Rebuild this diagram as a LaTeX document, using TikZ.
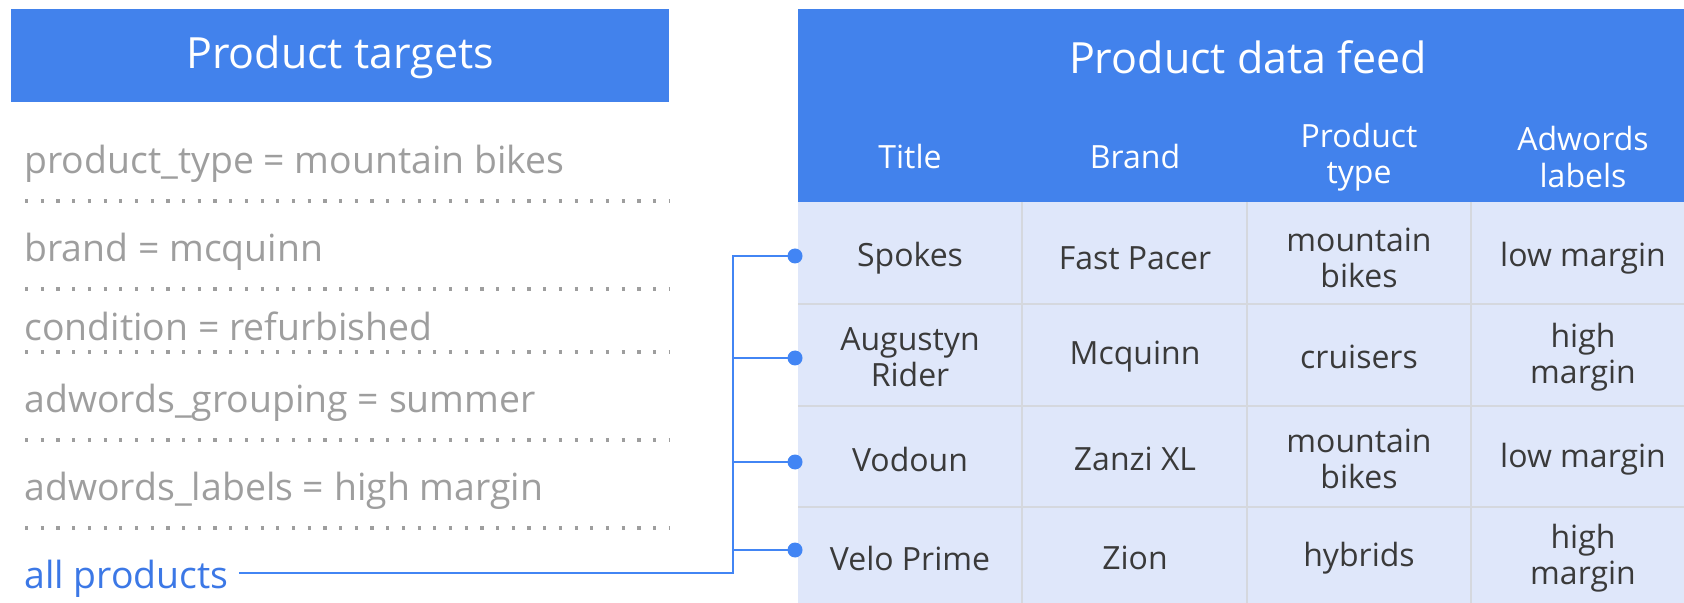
\documentclass[tikz,border=0pt]{standalone}
\usepackage{fontspec}
\setmainfont{Open Sans}
\definecolor{hdr}{HTML}{4282EC}
\definecolor{cellbg}{HTML}{DFE7FA}
\definecolor{grid}{HTML}{D5D8DE}
\definecolor{itemgray}{HTML}{9E9E9E}
\definecolor{dotgray}{HTML}{9E9E9E}
\definecolor{linkblue}{HTML}{4285F4}
\definecolor{allblue}{HTML}{3C78E6}
\definecolor{celltext}{HTML}{3A3A3A}
\tikzset{
  titletext/.style={font=\fontsize{21.5}{25}\selectfont, text=white, inner sep=0pt},
  colhead/.style={font=\fontsize{16}{18.2}\selectfont, text=white, align=center, inner sep=0pt},
  itemtext/.style={font=\fontsize{18.7}{22}\selectfont, text=itemgray, anchor=west, inner sep=0pt},
  celltxt/.style={font=\fontsize{16}{18.2}\selectfont, text=celltext, align=center, inner sep=0pt},
  dotline/.style={draw=dotgray, line width=1.6pt, dash pattern=on 1.6pt off 6.25pt},
  gridline/.style={draw=grid, line width=1.3pt},
  conn/.style={draw=linkblue, line width=1.3pt},
  dotnode/.style={circle, fill=linkblue, inner sep=0pt, minimum size=7.5pt},
}
\begin{document}
\begin{tikzpicture}[x=0.5pt,y=-0.5pt]
\useasboundingbox (0,0) rectangle (1684,603);
% left header
\fill[hdr] (11,9) rectangle (669,102);
\node[titletext] (lt) at (340,57) {Product targets};
% items
\node[itemtext] (i1) at (24,164) {product\_type = mountain bikes};
\node[itemtext] (i2) at (24,252) {brand = mcquinn};
\node[itemtext] (i3) at (24,326) {condition = refurbished};
\node[itemtext] (i4) at (24,403) {adwords\_grouping = summer};
\node[itemtext] (i5) at (24,491) {adwords\_labels = high margin};
\draw[dotline] (25,201) -- (669,201);
\draw[dotline] (25,289) -- (669,289);
\draw[dotline] (25,352) -- (669,352);
\draw[dotline] (25,440) -- (669,440);
\draw[dotline] (25,528) -- (669,528);
\node[itemtext, text=allblue] (allp) at (24,579) {all products};
% right table
\fill[hdr] (798,9) rectangle (1684,202);
\node[titletext] (rt) at (1248,57) {Product data feed};
\node[colhead] (h1) at (910,157) {Title};
\node[colhead] (h2) at (1135,157) {Brand};
\node[colhead] (h3) at (1359,157) {Product\\type};
\node[colhead] (h4) at (1583,157) {Adwords\\labels};
\fill[cellbg] (798,202) rectangle (1684,603);
\foreach \y in {304,406,507} \draw[gridline] (798,\y) -- (1684,\y);
\foreach \x in {1022,1247,1471} \draw[gridline] (\x,202) -- (\x,603);
% row 1
\node[celltxt] (c11) at (910,258) {Spokes};
\node[celltxt] (c12) at (1135,258) {Fast Pacer};
\node[celltxt] (c13) at (1359,258) {mountain\\bikes};
\node[celltxt] (c14) at (1583,258) {low margin};
% row 2
\node[celltxt] (c21) at (910,357) {Augustyn\\Rider};
\node[celltxt] (c22) at (1135,357) {Mcquinn};
\node[celltxt] (c23) at (1359,357) {cruisers};
\node[celltxt] (c24) at (1583,357) {high\\margin};
% row 3
\node[celltxt] (c31) at (910,459) {Vodoun};
\node[celltxt] (c32) at (1135,459) {Zanzi XL};
\node[celltxt] (c33) at (1359,459) {mountain\\bikes};
\node[celltxt] (c34) at (1583,459) {low margin};
% row 4
\node[celltxt] (c41) at (910,558) {Velo Prime};
\node[celltxt] (c42) at (1135,558) {Zion};
\node[celltxt] (c43) at (1359,558) {hybrids};
\node[celltxt] (c44) at (1583,558) {high\\margin};
% dots
\node[dotnode] (d1) at (795,256) {};
\node[dotnode] (d2) at (795,358) {};
\node[dotnode] (d3) at (795,462) {};
\node[dotnode] (d4) at (795,550) {};
% connectors
\coordinate (jb) at (733,573);
\draw[conn, shorten <=5pt] (allp.east |- jb) -- (jb) -- (jb |- d1) -- (d1.center);
\draw[conn] (jb |- d2) -- (d2.center);
\draw[conn] (jb |- d3) -- (d3.center);
\draw[conn] (jb |- d4) -- (d4.center);
\end{tikzpicture}
\end{document}
